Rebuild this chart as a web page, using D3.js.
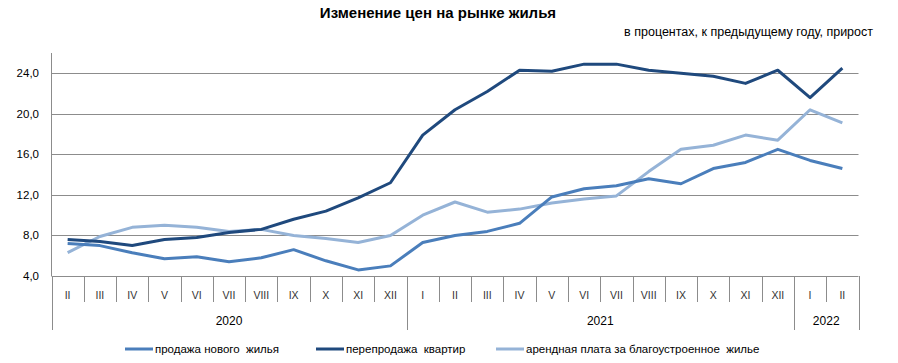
<!DOCTYPE html>
<html>

<head>
    <meta charset="utf-8">
    <title>Изменение цен на рынке жилья</title>
    <style type="text/css">
    body {
        margin: 0;
        background: #fff;
    }

    svg text {
        font-family: "Liberation Sans", Arial, sans-serif;
        fill: #000;
    }

    .grid line {
        stroke: #8c8c8c;
        stroke-width: 1px;
    }

    .series {
        fill: none;
        stroke-width: 3px;
        stroke-linejoin: round;
    }
    </style>
</head>

<body>
    <script src="https://cdn.jsdelivr.net/npm/d3@7"></script>
    <div id="chart"></div>
    <script>
    var months = ['II', 'III', 'IV', 'V', 'VI', 'VII', 'VIII', 'IX', 'X', 'XI', 'XII',
        'I', 'II', 'III', 'IV', 'V', 'VI', 'VII', 'VIII', 'IX', 'X', 'XI', 'XII',
        'I', 'II'];
    var years = ['2020', '2021', '2022'];
    var yearCounts = [11, 12, 2]; // months per year on the axis
    var yTicks = [4, 8, 12, 16, 20, 24];

    var newHousing = [7.2, 7.0, 6.3, 5.7, 5.9, 5.4, 5.8, 6.6, 5.5, 4.6, 5.0,
        7.3, 8.0, 8.4, 9.2, 11.8, 12.6, 12.9, 13.6, 13.1, 14.6, 15.2, 16.5,
        15.4, 14.6];
    var resale = [7.6, 7.4, 7.0, 7.6, 7.8, 8.3, 8.6, 9.6, 10.4, 11.7, 13.2,
        17.9, 20.4, 22.2, 24.3, 24.2, 24.9, 24.9, 24.3, 24.0, 23.7, 23.0, 24.3,
        21.6, 24.5];
    var rent = [6.3, 7.9, 8.8, 9.0, 8.8, 8.4, 8.6, 8.0, 7.7, 7.3, 8.0,
        10.0, 11.3, 10.3, 10.6, 11.2, 11.6, 11.9, 14.3, 16.5, 16.9, 17.9, 17.4,
        20.4, 19.1];

    var seriesNames = ['продажа нового  жилья', 'перепродажа  квартир', 'арендная плата за благоустроенное  жилье'];
    var seriesColors = ['#4a7ebb', '#1f497d', '#95b3d7'];

    var W = 898, H = 363;
    var plotL = 51.5, plotR = 858.5, plotT = 53, plotB = 276;

    var svg = d3.select('#chart').append('svg')
        .attr('width', W)
        .attr('height', H);

    var x = d3.scaleBand()
        .domain(d3.range(months.length))
        .range([plotL, plotR]);

    var y = d3.scaleLinear()
        .domain([4, 26])
        .range([plotB, plotT]);

    // title
    svg.append('text')
        .attr('x', 438)
        .attr('y', 18)
        .attr('text-anchor', 'middle')
        .style('font-size', '15px')
        .style('font-weight', 'bold')
        .text('Изменение цен на рынке жилья');

    svg.append('text')
        .attr('x', 873)
        .attr('y', 36)
        .attr('text-anchor', 'end')
        .style('font-size', '12.5px')
        .text('в процентах, к предыдущему году, прирост');

    // horizontal grid
    svg.append('g').attr('class', 'grid')
        .selectAll('line')
        .data(yTicks)
        .enter()
        .append('line')
        .attr('x1', plotL)
        .attr('x2', plotR)
        .attr('y1', function(d) { return Math.round(y(d)) + 0.5; })
        .attr('y2', function(d) { return Math.round(y(d)) + 0.5; });

    // y axis line
    svg.append('line')
        .attr('x1', plotL).attr('x2', plotL)
        .attr('y1', plotT).attr('y2', plotB)
        .attr('stroke', '#8c8c8c');

    // y labels
    svg.append('g')
        .selectAll('text')
        .data(yTicks)
        .enter()
        .append('text')
        .attr('x', 39)
        .attr('y', function(d) { return y(d); })
        .attr('dy', '0.35em')
        .attr('text-anchor', 'end')
        .style('font-size', '11.5px')
        .text(function(d) { return d.toFixed(1).replace('.', ','); });

    // month separators and year separators
    var yearStarts = [0];
    yearCounts.forEach(function(c, i) { yearStarts.push(yearStarts[i] + c); });

    var boundaries = d3.range(months.length + 1);
    svg.append('g')
        .selectAll('line')
        .data(boundaries)
        .enter()
        .append('line')
        .attr('x1', function(i) { return Math.round(plotL + i * x.step()) + 0.5; })
        .attr('x2', function(i) { return Math.round(plotL + i * x.step()) + 0.5; })
        .attr('y1', plotB)
        .attr('y2', function(i) { return yearStarts.indexOf(i) >= 0 ? 330 : 302; })
        .attr('stroke', '#8c8c8c');

    // month labels
    svg.append('g')
        .selectAll('text')
        .data(months)
        .enter()
        .append('text')
        .attr('x', function(d, i) { return x(i) + x.bandwidth() / 2; })
        .attr('y', 299)
        .attr('text-anchor', 'middle')
        .style('font-size', '10.5px')
        .style('fill', '#333')
        .text(function(d) { return d; });

    // year labels
    svg.append('g')
        .selectAll('text')
        .data(years)
        .enter()
        .append('text')
        .attr('x', function(d, i) {
            return plotL + (yearStarts[i] + yearCounts[i] / 2) * x.step();
        })
        .attr('y', 325)
        .attr('text-anchor', 'middle')
        .style('font-size', '12px')
        .text(function(d) { return d; });

    // lines
    var line = d3.line()
        .x(function(d, i) { return x(i) + x.bandwidth() / 2; })
        .y(function(d) { return y(d); });

    var allSeries = [newHousing, resale, rent];
    // draw order: rent underneath, then new housing, resale on top
    [2, 0, 1].forEach(function(k) {
        svg.append('path')
            .attr('class', 'series')
            .attr('d', line(allSeries[k]))
            .attr('stroke', seriesColors[k]);
    });

    // legend
    var legendX = [125, 316, 496];
    var legend = svg.append('g')
        .selectAll('g')
        .data(seriesNames)
        .enter()
        .append('g')
        .attr('transform', function(d, i) { return 'translate(' + legendX[i] + ',349)'; });

    legend.append('line')
        .attr('x1', 0).attr('x2', 28)
        .attr('y1', 0).attr('y2', 0)
        .attr('stroke-width', 3)
        .attr('stroke', function(d, i) { return seriesColors[i]; });

    legend.append('text')
        .attr('x', 30)
        .attr('dy', '0.35em')
        .style('font-size', '11.5px')
        .style('white-space', 'pre')
        .text(function(d) { return d; });
    </script>
</body>

</html>
